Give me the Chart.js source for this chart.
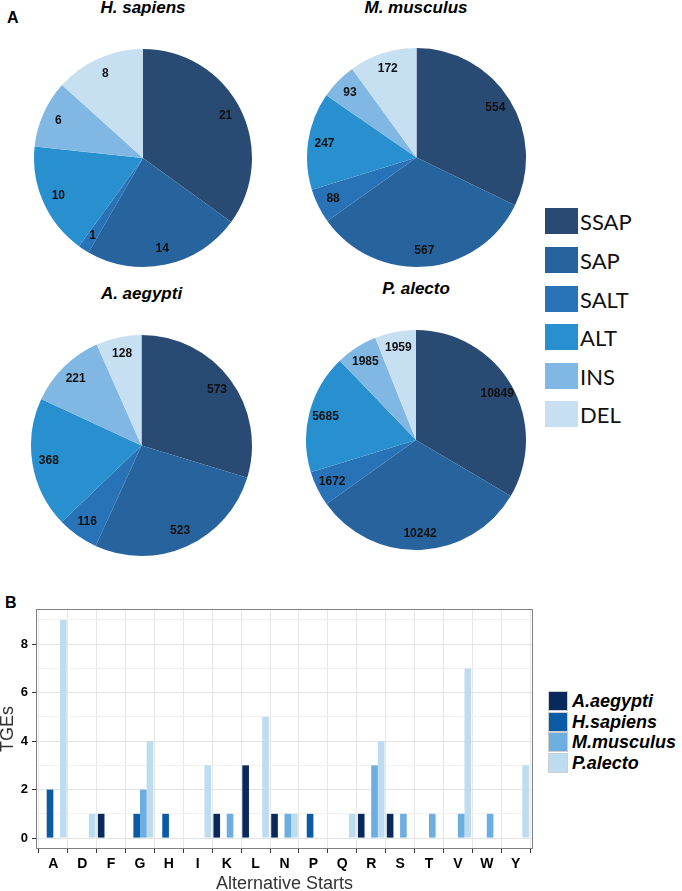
<!DOCTYPE html>
<html>
<head>
<meta charset="utf-8">
<script src="https://cdn.jsdelivr.net/npm/chart.js@4/dist/chart.umd.min.js"></script>
<style>
  html, body { margin: 0; padding: 0; background: #fff; }
  body { width: 682px; height: 891px; position: relative; overflow: hidden; font-family: "Liberation Sans", Arial, sans-serif; }
  .abs { position: absolute; }
  .ptitle { position: absolute; font: italic bold 17px "Liberation Sans", Arial, sans-serif; line-height: 17px; white-space: nowrap; transform: translateX(-50%); color: #000; }
  .panel { position: absolute; font: bold 16px "Liberation Sans", Arial, sans-serif; line-height: 16px; color: #000; }
  .pleg { position: absolute; left: 545px; height: 26px; display: flex; align-items: center; }
  .pleg .sw { width: 33px; height: 26px; }
  .pleg .tx { margin-left: 2px; font: 22px Lato, "Open Sans", sans-serif; line-height: 26px; color: #111; padding-top: 2px; }
  .bleg { position: absolute; left: 548px; height: 20px; display: flex; align-items: center; }
  .bleg .sw { width: 18px; height: 18px; border: 1px solid #cfcfcf; }
  .bleg .tx { margin-left: 4px; font: italic bold 18px "Liberation Sans", Arial, sans-serif; line-height: 20px; color: #000; }
</style>
</head>
<body>
<script>
// ---------- Data ----------
const pieCategories = ['SSAP', 'SAP', 'SALT', 'ALT', 'INS', 'DEL'];
const hSapiensValues = [21, 14, 1, 10, 6, 8];
const mMusculusValues = [554, 567, 88, 247, 93, 172];
const aAegyptiValues = [573, 523, 116, 368, 221, 128];
const pAlectoValues = [10849, 10242, 1672, 5685, 1985, 1959];
const pieTitles = ['H. sapiens', 'M. musculus', 'A. aegypti', 'P. alecto'];

const startCategories = ['A','D','F','G','H','I','K','L','N','P','Q','R','S','T','V','W','Y'];
const barSeriesNames = ['A.aegypti', 'H.sapiens', 'M.musculus', 'P.alecto'];
const aAegyptiStarts  = [0,0,1,0,0,0,1,3,1,0,0,1,1,0,0,0,0];
const hSapiensStarts  = [2,0,0,1,1,0,0,0,0,1,0,0,0,0,0,0,0];
const mMusculusStarts = [0,0,0,2,0,0,1,0,1,0,0,3,1,1,1,1,0];
const pAlectoStarts   = [9,1,0,4,0,3,0,5,1,0,1,4,0,0,7,0,3];
const yTickValues = [0,1,2,3,4,5,6,7,8,9];

// ---------- Styles ----------
const pieColors = ['#294a72', '#27649e', '#2872b8', '#2990d0', '#80b8e3', '#c6dff1'];
const barColors = ['#09295c', '#0a5aa6', '#6daee0', '#bddcf0'];

// pie layout: [centerX, centerY, radius, titleCenterX, titleCapCenterY]
const pieLayout = [
  [143, 157.5, 109, 143, 7.5],
  [416.5, 157.5, 109.5, 416, 7.5],
  [141.3, 445.5, 110.5, 141.5, 293],
  [415.5, 440, 110, 416, 288]
];
const pieData = [hSapiensValues, mMusculusValues, aAegyptiValues, pAlectoValues];

function el(tag, cls, style, text) {
  const e = document.createElement(tag);
  if (cls) e.className = cls;
  if (style) Object.assign(e.style, style);
  if (text !== undefined) e.textContent = text;
  document.body.appendChild(e);
  return e;
}

// Panel labels
el('div', 'panel', {left: '7px', top: '9.7px'}, 'A');
el('div', 'panel', {left: '5px', top: '594.5px'}, 'B');

const pieLabelPlugin = {
  id: 'pieLabels',
  afterDatasetsDraw(chart) {
    const ctx = chart.ctx;
    const meta = chart.getDatasetMeta(0);
    const vals = chart.data.datasets[0].data;
    ctx.save();
    ctx.font = 'bold 12px "Liberation Sans", Arial, sans-serif';
    ctx.fillStyle = '#111';
    ctx.textAlign = 'center';
    ctx.textBaseline = 'middle';
    meta.data.forEach((arc, i) => {
      const p = arc.getProps(['x', 'y', 'startAngle', 'endAngle', 'outerRadius'], true);
      const a = (p.startAngle + p.endAngle) / 2;
      const r = p.outerRadius * 0.85;
      ctx.fillText(String(vals[i]), p.x + Math.cos(a) * r, p.y + Math.sin(a) * r);
    });
    ctx.restore();
  }
};

pieLayout.forEach((L, k) => {
  const [cx, cy, r, tx, ty] = L;
  const size = Math.ceil(2 * r + 4);
  const wrap = el('div', 'abs', {left: (cx - size / 2) + 'px', top: (cy - size / 2) + 'px', width: size + 'px', height: size + 'px'});
  const cv = document.createElement('canvas');
  wrap.appendChild(cv);
  new Chart(cv, {
    type: 'pie',
    data: {
      labels: pieCategories,
      datasets: [{ data: pieData[k], backgroundColor: pieColors, borderWidth: 0, radius: r, hoverOffset: 0 }]
    },
    options: {
      responsive: true, maintainAspectRatio: false, animation: false,
      layout: { padding: 0 },
      events: [],
      plugins: { legend: { display: false }, tooltip: { enabled: false } }
    },
    plugins: [pieLabelPlugin]
  });
  el('div', 'ptitle', {left: tx + 'px', top: (ty - 0.49 * 17) + 'px'}, pieTitles[k]);
});

// Pie legend
pieCategories.forEach((c, i) => {
  const row = el('div', 'pleg', {top: (208.3 + i * 38.6) + 'px'});
  const sw = document.createElement('div'); sw.className = 'sw'; sw.style.background = pieColors[i];
  const t = document.createElement('div'); t.className = 'tx'; t.textContent = c;
  row.appendChild(sw); row.appendChild(t);
});

// Bar legend
barSeriesNames.forEach((n, i) => {
  const row = el('div', 'bleg', {top: (691 + i * 20.6) + 'px'});
  const sw = document.createElement('div'); sw.className = 'sw'; sw.style.background = barColors[i];
  const t = document.createElement('div'); t.className = 'tx'; t.textContent = n;
  row.appendChild(sw); row.appendChild(t);
});

// ---------- Bar chart ----------
const framePlugin = {
  id: 'frame',
  afterDraw(chart) {
    const {ctx, chartArea: a} = chart;
    ctx.save();
    ctx.strokeStyle = '#808080';
    ctx.lineWidth = 1;
    ctx.strokeRect(Math.round(a.left) + 0.5, Math.round(a.top) + 0.5, Math.round(a.right - a.left) - 1, Math.round(a.bottom - a.top) - 1);
    ctx.restore();
  }
};

const barWrap = el('div', 'abs', {left: '0px', top: '595px', width: '540px', height: '296px'});
const barCanvas = document.createElement('canvas');
barWrap.appendChild(barCanvas);

const seriesValues = [aAegyptiStarts, hSapiensStarts, mMusculusStarts, pAlectoStarts];

new Chart(barCanvas, {
  type: 'bar',
  data: {
    datasets: seriesValues.map((vals, k) => ({
      label: barSeriesNames[k],
      data: vals.map((v, i) => ({ x: i + 1, y: v })),
      backgroundColor: barColors[k],
      borderWidth: 0,
      categoryPercentage: 0.92,
      barPercentage: 1.0
    }))
  },
  options: {
    responsive: true, maintainAspectRatio: false, animation: false,
    events: [],
    layout: { padding: { top: 14, right: 7, left: 0, bottom: 0 } },
    plugins: { legend: { display: false }, tooltip: { enabled: false } },
    scales: {
      x: {
        type: 'linear',
        min: 0.4, max: 17.6,
        offset: false,
        afterBuildTicks: s => { s.ticks = startCategories.map((c, i) => ({ value: i + 1 })); },
        afterFit: s => { s.height = 42; },
        ticks: {
          autoSkip: false, maxRotation: 0,
          callback: v => startCategories[Math.round(v) - 1],
          font: { family: '"Liberation Sans", Arial, sans-serif', size: 14, weight: 'bold' },
          color: '#000', padding: 3
        },
        grid: { color: '#e6e6e6', lineWidth: 1, tickLength: 4, tickColor: '#333', drawTicks: true },
        border: { display: false },
        title: {
          display: true, text: 'Alternative Starts',
          font: { family: '"Liberation Sans", Arial, sans-serif', size: 18, lineHeight: 0.72 },
          color: '#333', padding: 0
        }
      },
      y: {
        type: 'linear',
        min: -0.45, max: 9.45,
        afterBuildTicks: s => { s.ticks = yTickValues.map(v => ({ value: v })); },
        afterFit: s => { s.width = 36; },
        ticks: {
          callback: v => (v % 2 === 0 ? String(v) : ''),
          font: { family: '"Liberation Sans", Arial, sans-serif', size: 13, weight: 'bold' },
          color: '#000', padding: 4
        },
        grid: {
          color: c => (c.tick && c.tick.value % 2 === 0 ? '#e4e4e4' : '#f1f1f1'),
          tickColor: c => (c.tick && c.tick.value % 2 === 0 ? '#333' : 'rgba(0,0,0,0)'),
          lineWidth: 1, tickLength: 4, drawTicks: true
        },
        border: { display: false },
        title: {
          display: true, text: 'TGEs',
          font: { family: '"Liberation Sans", Arial, sans-serif', size: 18, lineHeight: 0.92 },
          color: '#333', padding: 0
        }
      }
    }
  },
  plugins: [framePlugin]
});
</script>
</body>
</html>
